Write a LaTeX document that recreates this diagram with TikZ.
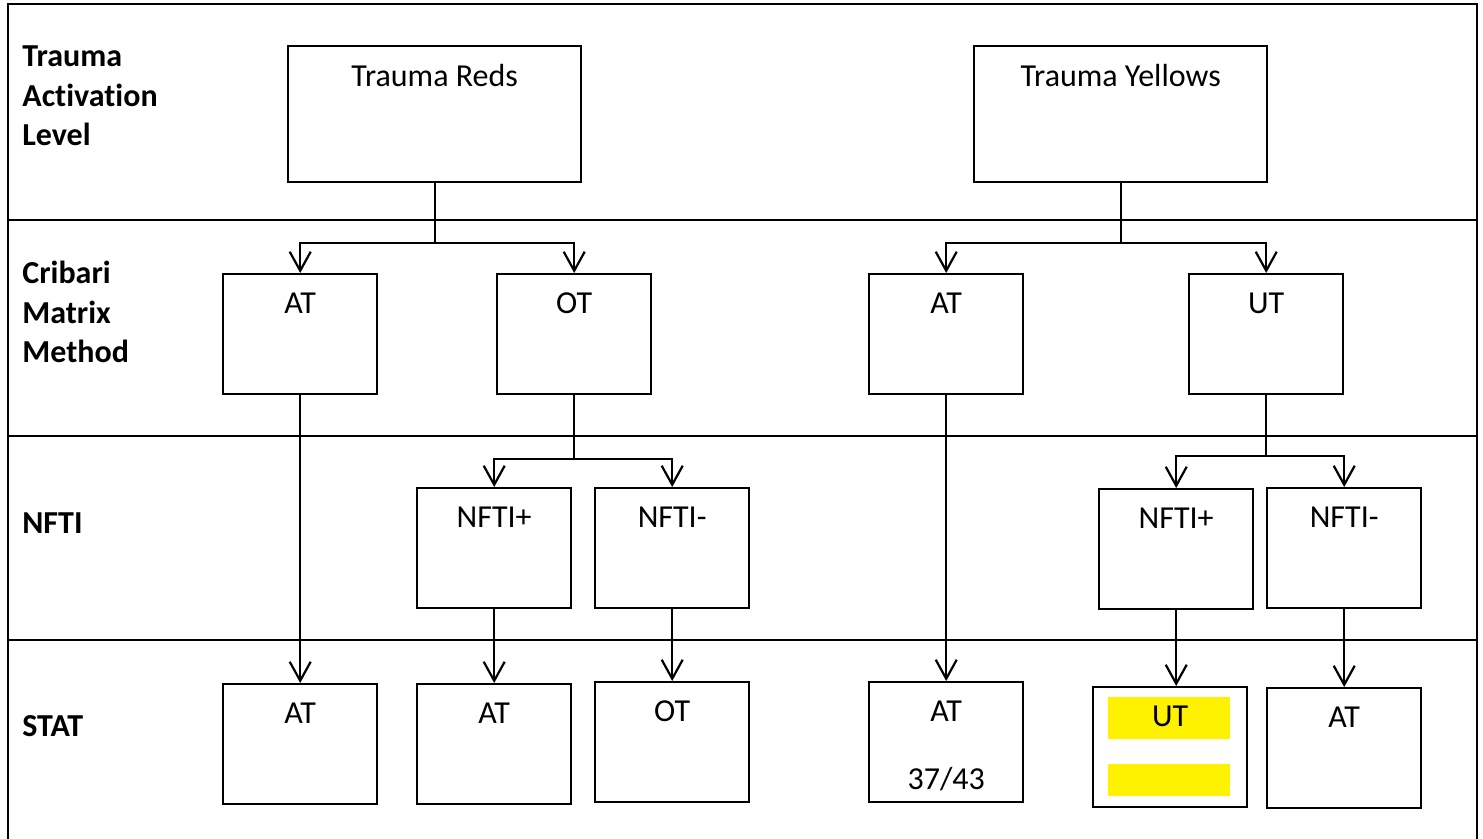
\documentclass[tikz,border=0pt]{standalone}
\usepackage{fontspec}
\setmainfont{Carlito}[Ligatures=NoCommon]
\usetikzlibrary{arrows.meta}
\tikzset{
  box/.style={draw=black, line width=1.2pt, inner sep=0pt, minimum width=77pt,
    text height=19.5pt, text depth=40.5pt, font=\fontsize{16}{19.2}\selectfont},
  bigbox/.style={box, minimum width=146.5pt, text height=20pt, text depth=48pt},
  rowlab/.style={anchor=west, align=left, inner sep=0pt,
    font=\fontsize{16}{19.75}\selectfont\bfseries},
  arr/.style={draw=black, line width=1.1pt,
    -{Straight Barb[length=9.5pt,width=10.5pt,line width=1.1pt]}},
  rule/.style={line width=1.4pt},
  hilite/.style={fill=yellow}
}
\begin{document}
\begin{tikzpicture}[x=0.5pt, y=-0.5pt]
\useasboundingbox (0,0) rectangle (1483,839);
\draw[rule] (8,839) -- (8,4) -- (1477,4) -- (1477,839);
\foreach \y in {220,436,640}
  \draw[rule] (8,\y) -- (1477,\y);

\node[rowlab] (lvlTAL) at (22,96) {Trauma\\Activation\\Level};
\node[rowlab] (lvlCMM) at (22,312) {Cribari\\Matrix\\Method};
\node[rowlab] (lvlNFTI) at (22,523) {NFTI};
\node[rowlab] (lvlSTAT) at (22,726) {STAT};

\node[bigbox, anchor=north west] (tred) at (287,45) {Trauma Reds};
\node[bigbox, anchor=north west] (tyel) at (973,45) {Trauma Yellows};

\node[box, anchor=north west] (cmATr) at (222,273) {AT};
\node[box, anchor=north west] (cmOT) at (496,273) {OT};
\node[box, anchor=north west] (cmATy) at (868,273) {AT};
\node[box, anchor=north west] (cmUT) at (1188,273) {UT};

\node[box, anchor=north west] (nfPr) at (416,487) {NFTI+};
\node[box, anchor=north west] (nfMr) at (594,487) {NFTI-};
\node[box, anchor=north west] (nfPy) at (1098,488) {NFTI+};
\node[box, anchor=north west] (nfMy) at (1266,487) {NFTI-};

\node[box, anchor=north west] (stATa) at (222,683) {AT};
\node[box, anchor=north west] (stATb) at (416,683) {AT};
\node[box, anchor=north west] (stOT) at (594,681) {OT};
\node[box, anchor=north west] (stATc) at (868,681)
  {\begin{tabular}[t]{@{}c@{}}AT\\[14.8pt]37/43\end{tabular}};
\fill[hilite] (1108,697) rectangle (1230,739);
\fill[hilite] (1108,764) rectangle (1230,796);
\node[box, anchor=north west] (stUT) at (1092,686) {UT};
\node[box, anchor=north west] (stATd) at (1266,687) {AT};

\draw[arr] (tred.south) -- ++(0,60) -| (cmATr.north);
\draw[arr] (tred.south) -- ++(0,60) -| (cmOT.north);
\draw[arr] (tyel.south) -- ++(0,60) -| (cmATy.north);
\draw[arr] (tyel.south) -- ++(0,60) -| (cmUT.north);
\draw[arr] (cmOT.south) -- ++(0,64) -| (nfPr.north);
\draw[arr] (cmOT.south) -- ++(0,64) -| (nfMr.north);
\draw[arr] (cmUT.south) -- ++(0,61) -| (nfPy.north);
\draw[arr] (cmUT.south) -- ++(0,61) -| (nfMy.north);
\draw[arr] (cmATr) -- (stATa);
\draw[arr] (cmATy.south) -- (stATc.north);
\draw[arr] (nfPr.south) -- (stATb.north);
\draw[arr] (nfMr.south) -- (stOT.north);
\draw[arr] (nfPy.south) -- (nfPy.south |- stUT.north);
\draw[arr] (nfMy.south) -- (stATd.north);
\end{tikzpicture}
\end{document}
